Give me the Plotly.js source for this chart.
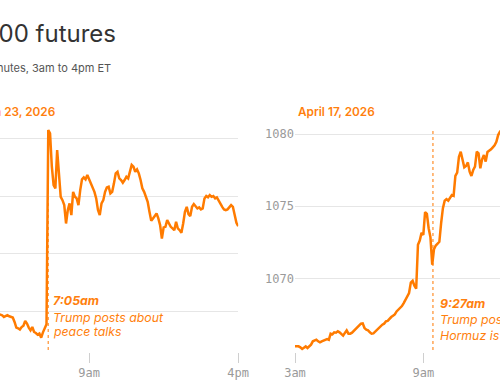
<!DOCTYPE html>
<html>
<head>
<meta charset="utf-8">
<script src="https://cdn.plot.ly/plotly-3.0.1.min.js"></script>
<style>
  html, body { margin: 0; padding: 0; width: 500px; height: 383px; overflow: hidden; background: #fff; }
  #wrap { position: absolute; left: -60px; top: 0; width: 660px; height: 383px; }
</style>
</head>
<body>
<div id="wrap"></div>
<script>
// ---- Data (5-minute intervals, 3am to 4pm ET) ----
const chartTitle = "S&P 500 futures";
const chartSubtitle = "Price every 5 minutes, 3am to 4pm ET";
const leftDate = "2026-03-23";
const rightDate = "2026-04-17";
const leftLabel = "March 23, 2026";
const rightLabel = "April 17, 2026";

const leftValues = [
  6452, 6450, 6453, 6451, 6449, 6448, 6450, 6447, 6449, 6451, 6450, 6448, 6446, 6447, 6449, 6450, 6448, 6447, 6449, 6448, 6447, 6448,
  6447.5, 6446.9, 6445.4, 6446.0, 6446.9, 6446.0, 6445.7, 6444.9, 6441.1, 6436.2, 6435.6, 6434.5, 6436.7, 6437.9, 6441.9, 6439.7,
  6436.2, 6433.9, 6436.7, 6432.4, 6431.5, 6430.1, 6431.0, 6427.5, 6432.1, 6436.2, 6439.1,
  6607.2, 6604.3, 6575.4, 6559.5, 6556.7, 6589.9, 6569.7, 6549.4, 6546.5, 6542.2, 6526.3, 6537.9, 6543.7, 6533.5, 6553.7, 6549.4,
  6548.0, 6542.2, 6555.2, 6564.5, 6566.2, 6564.5, 6568.2, 6564.5, 6559.5, 6555.8, 6553.7, 6548.0, 6537.9, 6533.5, 6543.7, 6546.5,
  6553.7, 6557.5, 6558.1, 6552.3, 6553.7, 6561.0, 6569.7, 6571.1, 6565.3, 6563.9, 6561.5, 6563.9, 6566.7, 6565.3, 6572.5, 6576.9,
  6575.4, 6571.1, 6573.1, 6569.7, 6563.9, 6556.7, 6553.7, 6549.4, 6545.1, 6536.4, 6528.6, 6530.7, 6533.5, 6535.0, 6530.7, 6524.9,
  6513.3, 6522.9, 6523.4, 6529.2, 6526.3, 6523.4, 6522.0, 6520.5, 6527.7, 6522.0, 6520.5, 6518.2, 6526.3, 6536.4, 6540.7, 6534.4,
  6532.7, 6540.7, 6543.1, 6540.7, 6539.3, 6540.2, 6538.5, 6539.3, 6548.0, 6550.0, 6548.9, 6550.9, 6549.4, 6550.0, 6548.0, 6548.9,
  6545.9, 6543.1, 6540.7, 6538.5, 6537.9, 6538.5, 6540.7, 6542.2, 6540.7, 6533.5, 6526.9, 6524.0
];

const rightValues = [
  1065.30, 1065.30, 1065.30, 1065.23, 1065.12, 1065.21, 1065.30, 1065.19, 1065.30, 1065.42, 1065.65, 1065.69, 1065.76, 1065.65,
  1065.58, 1065.65, 1065.71, 1065.76, 1065.81, 1065.76, 1066.18, 1066.13, 1066.27, 1066.25, 1066.34, 1066.27, 1066.13, 1066.04,
  1066.23, 1066.41, 1066.18, 1066.18, 1066.25, 1066.36, 1066.50, 1066.61, 1066.73, 1066.87, 1066.89, 1066.57, 1066.45, 1066.41,
  1066.27, 1066.18, 1066.20, 1066.32, 1066.45, 1066.52, 1066.71, 1066.80, 1066.87, 1067.03, 1067.06, 1067.21, 1067.33, 1067.42,
  1067.51, 1067.72, 1067.84, 1067.97, 1068.09, 1068.30, 1068.55, 1068.69, 1068.99, 1069.72, 1069.84, 1069.50, 1069.29, 1072.33,
  1072.63, 1073.16, 1073.02, 1074.59, 1074.47, 1073.48, 1072.86, 1070.95, 1072.03, 1072.28, 1072.38, 1072.54, 1073.83, 1074.87,
  1075.39, 1075.49, 1075.39, 1075.56, 1075.78, 1075.72, 1077.10, 1077.33, 1078.43, 1078.78, 1078.32, 1077.70, 1077.79, 1078.04,
  1077.39, 1077.10, 1077.51, 1077.74, 1078.78, 1078.67, 1077.63, 1078.25, 1078.55, 1078.09, 1078.76, 1078.83, 1078.94, 1079.08,
  1079.22, 1079.47, 1079.93, 1080.16,
  1080.3, 1080.1, 1080.5, 1080.7, 1080.4, 1080.6, 1080.9, 1081.1, 1080.8, 1081.0, 1081.3, 1081.2, 1081.5, 1081.4, 1081.1, 1081.3,
  1081.6, 1081.8, 1081.5, 1081.7, 1081.9, 1082.1, 1081.8, 1082.0, 1082.2, 1082.0, 1081.7, 1081.9, 1082.1, 1082.3, 1082.0, 1081.8,
  1082.0, 1082.2, 1082.4, 1082.1, 1081.9, 1082.2, 1082.3, 1082.1, 1082.0
];

const leftTicks = [6450, 6500, 6550, 6600];
const leftTickText = ["6,450", "6,500", "6,550", "6,600"];
const rightTicks = [1070, 1075, 1080];
const rightTickText = ["1070", "1075", "1080"];
const xTickHours = ["03:00", "09:00", "16:00"];
const xTickText = ["3am", "9am", "4pm"];

const leftEventTime = "07:05";
const rightEventTime = "09:27";
const leftEventLines = ["7:05am", "Trump posts about", "peace talks"];
const rightEventLines = ["9:27am", "Trump posts that the Strait of", "Hormuz is open"];

// ---- Build ----
function makeTimes(date, n) {
  const out = [];
  for (let i = 0; i < n; i++) {
    const m = 180 + 5 * i;
    const hh = String(Math.floor(m / 60)).padStart(2, "0");
    const mm = String(m % 60).padStart(2, "0");
    out.push(date + " " + hh + ":" + mm);
  }
  return out;
}
const leftTimes = makeTimes(leftDate, leftValues.length);
const rightTimes = makeTimes(rightDate, rightValues.length);

const ORANGE = "#ff7b00";
const ORANGE_TXT = "#ff7f0e";
const DOT = "#ffa454";
const GRID = "#e6e6e6";
const MONO = "DejaVu Sans Mono, monospace";
const SANS = "Inter, Lato, sans-serif";

const W = 660, H = 383, OFF = 60;
const px = x => (x + OFF) / W;      // page x -> paper x
const py = y => 1 - y / H;          // page y -> paper y

const traces = [
  { x: leftTimes, y: leftValues, xaxis: "x", yaxis: "y", type: "scatter", mode: "lines",
    line: { color: ORANGE, width: 2.5 }, hoverinfo: "skip" },
  { x: rightTimes, y: rightValues, xaxis: "x2", yaxis: "y2", type: "scatter", mode: "lines",
    line: { color: ORANGE, width: 2.5 }, hoverinfo: "skip" }
];

const yDom = [py(352), py(129)];
const xCommon = {
  type: "date", showgrid: false, zeroline: false, showline: false,
  ticks: "outside", ticklen: 10, tickwidth: 1, tickcolor: "#cfcfcf",
  tickfont: { family: MONO, size: 12, color: "#9a9a9a" }
};
const yCommon = {
  showgrid: true, gridcolor: GRID, gridwidth: 1, zeroline: false, showline: false, ticks: "",
  tickfont: { family: MONO, size: 12, color: "#9a9a9a" }, domain: yDom
};

function note(axis, date, time, shift, y, text, bold) {
  return { xref: axis, yref: "paper", x: date + " " + time, xshift: shift, y: py(y), xanchor: "left", yanchor: "middle",
    text: text, showarrow: false,
    font: { family: SANS, size: 12.3, color: ORANGE_TXT, style: "italic", weight: bold ? 700 : 400 } };
}

const layout = {
  width: W, height: H,
  margin: { l: 0, r: 0, t: 0, b: 0 },
  paper_bgcolor: "#fff", plot_bgcolor: "#fff",
  showlegend: false,
  xaxis: Object.assign({}, xCommon, {
    domain: [px(-38.7), px(238.2)], anchor: "y",
    range: [leftDate + " 03:00", leftDate + " 16:00"],
    tickvals: xTickHours.map(h => leftDate + " " + h), ticktext: xTickText
  }),
  xaxis2: Object.assign({}, xCommon, {
    domain: [px(295), px(573)], anchor: "y2",
    range: [rightDate + " 03:00", rightDate + " 16:00"],
    tickvals: xTickHours.map(h => rightDate + " " + h), ticktext: xTickText
  }),
  yaxis: Object.assign({}, yCommon, {
    anchor: "x", range: [6415.08, 6608.06], tickvals: leftTicks, ticktext: leftTickText
  }),
  yaxis2: Object.assign({}, yCommon, {
    anchor: "x2", range: [1064.91, 1080.35], tickvals: rightTicks, ticktext: rightTickText
  }),
  shapes: [
    { type: "line", xref: "x", yref: "paper", x0: leftDate + " " + leftEventTime, x1: leftDate + " " + leftEventTime,
      y0: py(350), y1: py(129), line: { color: DOT, width: 1.5, dash: "dot" }, layer: "below" },
    { type: "line", xref: "x2", yref: "paper", x0: rightDate + " " + rightEventTime, x1: rightDate + " " + rightEventTime,
      y0: py(350), y1: py(129), line: { color: DOT, width: 1.5, dash: "dot" }, layer: "below" }
  ],
  annotations: [
    { xref: "paper", yref: "paper", x: px(118), y: py(33.5), xanchor: "right", yanchor: "middle",
      text: chartTitle, showarrow: false, font: { family: SANS, size: 24, color: "#333333" } },
    { xref: "paper", yref: "paper", x: px(113), y: py(68), xanchor: "right", yanchor: "middle",
      text: chartSubtitle, showarrow: false, font: { family: SANS, size: 11, color: "#555555" } },
    { xref: "paper", yref: "paper", x: px(57), y: py(111.7), xanchor: "right", yanchor: "middle",
      text: leftLabel, showarrow: false, font: { family: SANS, size: 11.8, weight: 600, color: ORANGE_TXT } },
    { xref: "paper", yref: "paper", x: px(295.5), y: py(111.7), xanchor: "left", yanchor: "middle",
      text: rightLabel, showarrow: false, font: { family: SANS, size: 11.8, weight: 600, color: ORANGE_TXT } },
    note("x", leftDate, leftEventTime, 3, 300.7, leftEventLines[0], true),
    note("x", leftDate, leftEventTime, 3, 317.3, leftEventLines[1], false),
    note("x", leftDate, leftEventTime, 3, 331.7, leftEventLines[2], false),
    note("x2", rightDate, rightEventTime, 5.5, 303.3, rightEventLines[0], true),
    note("x2", rightDate, rightEventTime, 5.5, 319.3, rightEventLines[1], false),
    note("x2", rightDate, rightEventTime, 5.5, 335, rightEventLines[2], false)
  ]
};

Plotly.newPlot("wrap", traces, layout, { staticPlot: true, displayModeBar: false });
</script>
</body>
</html>
